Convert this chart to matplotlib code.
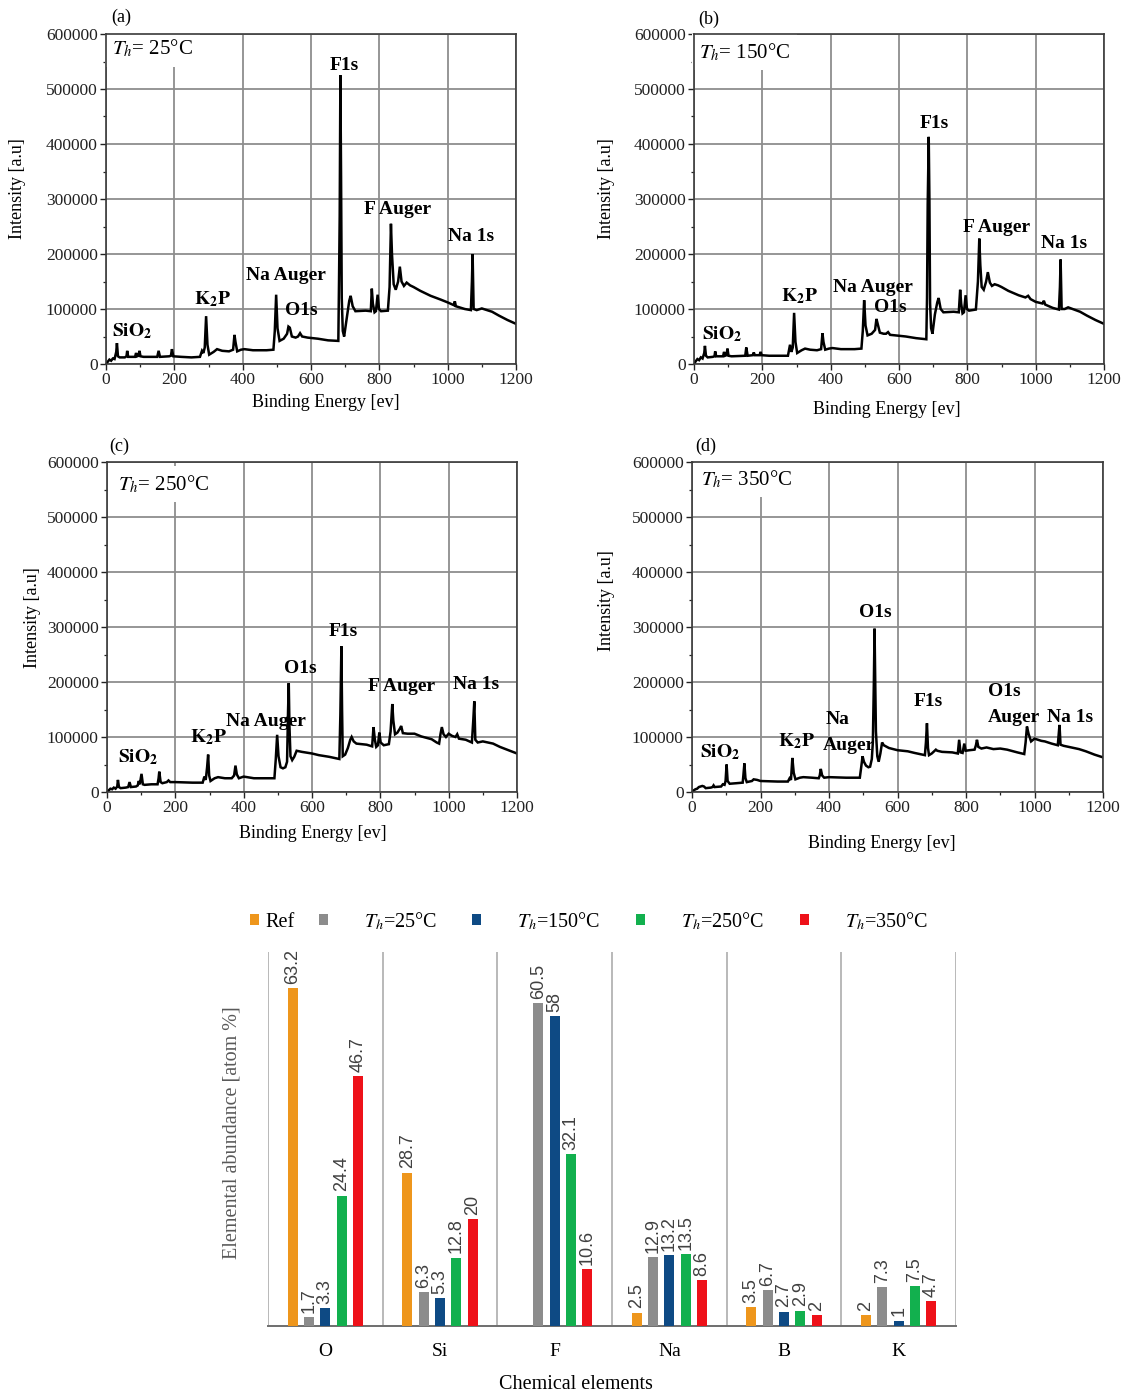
import numpy as np
import matplotlib
matplotlib.use("Agg")
import matplotlib.pyplot as plt
from matplotlib.ticker import MultipleLocator, FuncFormatter

plt.rcParams["font.family"] = ["Liberation Serif", "DejaVu Serif"]
plt.rcParams["mathtext.fontset"] = "stix"

# ---------------- XPS survey spectra ----------------
# binding energy [eV] and intensity [x1000 a.u.]
energy_a = [0, 5, 10, 15, 20, 25, 30, 32, 35, 40, 55, 60, 62, 65, 85, 88, 91, 95, 98, 101, 110,
            150, 154, 158, 185, 190, 193, 197, 220, 250, 275, 281, 285, 289, 293, 297, 302, 315,
            325, 340, 360, 372, 376, 379, 384, 395, 405, 430, 470, 490, 494, 498, 502, 508, 520,
            530, 534, 538, 544, 555, 562, 568, 574, 590, 620, 650, 680, 682, 684, 686, 688, 690,
            693, 697, 705, 712, 716, 722, 730, 760, 775, 778, 781, 786, 790, 795, 799, 805, 825,
            830, 834, 837, 842, 848, 855, 860, 865, 872, 880, 890, 900, 920, 950, 980, 1000, 1018,
            1021, 1024, 1050, 1068, 1071, 1073, 1076, 1085, 1100, 1130, 1150, 1175, 1200]
counts_a = [0, 4, 8, 6, 10, 9, 22, 38, 14, 12, 12, 14, 24, 13, 13, 20, 14, 15, 24, 14, 13,
            13, 24, 13, 14, 15, 27, 14, 13, 12, 13, 24, 20, 30, 87, 35, 17, 22,
            27, 24, 23, 26, 53, 40, 23, 26, 27, 25, 25, 26, 60, 126, 65, 42, 46,
            55, 68, 66, 50, 48, 50, 56, 50, 48, 46, 43, 42, 150, 270, 525, 340, 120,
            60, 50, 85, 115, 124, 105, 96, 97, 96, 137, 110, 94, 96, 126, 100, 96, 97,
            140, 255, 200, 145, 135, 150, 177, 150, 142, 148, 143, 140, 133, 124, 117, 112, 107,
            114, 105, 100, 98, 150, 200, 100, 98, 101, 95, 88, 80, 73]

energy_b = [0, 5, 10, 15, 20, 25, 30, 32, 35, 40, 55, 60, 62, 65, 85, 88, 91, 95, 98, 101, 110,
            150, 153, 157, 172, 175, 178, 192, 195, 198, 220, 250, 275, 281, 285, 289, 293, 297,
            302, 315, 325, 340, 360, 372, 376, 379, 384, 395, 405, 430, 470, 490, 494, 498, 502,
            508, 520, 530, 534, 538, 544, 555, 562, 568, 574, 590, 620, 650, 680, 682, 684, 687,
            689, 691, 694, 698, 705, 712, 716, 722, 730, 760, 775, 779, 782, 786, 790, 795, 799,
            805, 825, 831, 835, 838, 842, 848, 855, 860, 866, 872, 880, 890, 900, 920, 950, 970,
            978, 985, 1000, 1020, 1024, 1028, 1050, 1068, 1071, 1073, 1076, 1085, 1095, 1130,
            1150, 1175, 1200]
counts_b = [0, 5, 9, 7, 12, 10, 20, 33, 15, 12, 13, 14, 23, 14, 14, 22, 15, 16, 28, 15, 14,
            15, 30, 15, 16, 21, 16, 16, 22, 16, 15, 15, 15, 35, 22, 30, 93, 40,
            20, 25, 28, 26, 25, 27, 56, 40, 26, 28, 29, 27, 27, 28, 60, 116, 70,
            52, 55, 62, 82, 72, 57, 55, 55, 58, 53, 52, 50, 47, 45, 120, 290, 413,
            300, 110, 65, 55, 90, 112, 120, 100, 94, 95, 94, 135, 110, 92, 94, 125, 100,
            97, 99, 150, 228, 180, 140, 135, 150, 167, 148, 142, 145, 143, 140, 133, 125, 121,
            124, 118, 113, 110, 115, 108, 102, 99, 140, 190, 100, 100, 103, 95,
            88, 80, 73]

energy_c = [0, 5, 10, 15, 20, 25, 30, 32, 35, 40, 55, 62, 66, 70, 85, 90, 93, 96, 101, 105, 110,
            130, 148, 151, 153, 157, 162, 175, 180, 185, 200, 250, 280, 285, 289, 293, 296, 299,
            303, 315, 325, 345, 365, 372, 376, 380, 386, 400, 430, 470, 490, 494, 498, 502, 508,
            515, 522, 527, 530, 532, 534, 537, 542, 548, 555, 570, 600, 620, 650, 680, 683, 686,
            688, 690, 697, 705, 712, 716, 722, 730, 760, 776, 780, 784, 788, 793, 797, 801, 810,
            825, 830, 835, 838, 843, 850, 857, 861, 866, 880, 900, 920, 950, 965, 972, 976, 980,
            985, 992, 1000, 1010, 1020, 1025, 1030, 1050, 1068, 1072, 1075, 1078, 1085, 1100,
            1130, 1150, 1175, 1200]
counts_c = [0, 3, 6, 5, 8, 6, 10, 22, 9, 7, 8, 9, 18, 9, 10, 12, 20, 14, 33, 14, 13,
            14, 14, 25, 37, 18, 16, 18, 21, 18, 18, 17, 17, 28, 22, 45, 68, 30,
            20, 25, 27, 25, 25, 30, 48, 32, 25, 28, 25, 25, 25, 60, 104, 65, 45,
            43, 45, 55, 150, 198, 120, 65, 58, 64, 75, 73, 70, 67, 64, 60, 140, 265,
            150, 65, 68, 80, 95, 100, 92, 88, 86, 83, 118, 95, 82, 85, 108, 90, 85,
            87, 110, 160, 130, 105, 108, 115, 120, 107, 106, 106, 101, 96, 90, 88, 105, 118,
            105, 100, 106, 102, 100, 105, 97, 95, 90, 130, 165, 95, 90, 92,
            88, 82, 76, 70]

energy_d = [0, 5, 10, 15, 20, 25, 30, 35, 40, 55, 60, 63, 66, 85, 90, 95, 98, 101, 104, 110, 130,
            148, 150, 153, 156, 160, 175, 180, 190, 200, 250, 280, 285, 289, 293, 297, 302, 315,
            325, 350, 370, 373, 376, 380, 386, 400, 450, 490, 494, 498, 502, 508, 515, 520, 525,
            528, 531, 533, 535, 537, 541, 545, 550, 555, 560, 575, 600, 630, 650, 680, 683, 686,
            689, 692, 700, 712, 716, 730, 760, 776, 780, 784, 790, 795, 799, 810, 825, 829, 832,
            836, 845, 860, 880, 900, 920, 950, 970, 974, 978, 983, 990, 1000, 1010, 1020, 1030,
            1050, 1068, 1070, 1073, 1076, 1085, 1100, 1130, 1150, 1175, 1200]
counts_d = [0, 3, 5, 6, 9, 10, 11, 10, 7, 8, 9, 12, 9, 10, 14, 13, 20, 50, 20, 15, 16,
            17, 30, 52, 25, 18, 20, 23, 22, 20, 19, 19, 25, 22, 62, 35, 23, 26,
            27, 26, 25, 30, 42, 30, 26, 27, 26, 26, 45, 65, 55, 48, 45, 46, 60,
            90, 200, 297, 200, 110, 65, 55, 70, 90, 85, 80, 76, 74, 71, 67, 90, 125,
            80, 67, 70, 77, 75, 73, 72, 70, 95, 72, 71, 88, 75, 76, 77, 85, 95,
            82, 79, 81, 78, 79, 77, 72, 69, 90, 119, 105, 92, 97, 95, 93, 92,
            88, 85, 100, 122, 86, 84, 82, 78, 74, 68, 63]

spectra = [(energy_a, counts_a), (energy_b, counts_b), (energy_c, counts_c), (energy_d, counts_d)]
panel_tags = ["(a)", "(b)", "(c)", "(d)"]
heat_temps = ["25", "150", "250", "350"]

K2P = r"$\mathbf{K_2P}$"
SIO2 = r"$\mathbf{SiO_2}$"
# peak labels: text, energy [eV], intensity [x1000]
peak_notes = [
    [("F1s", 697, 543), ("F Auger", 852, 280), ("Na 1s", 1068, 231), ("Na Auger", 527, 160),
     (K2P, 313, 118), ("O1s", 571, 98), (SIO2, 76, 60)],
    [("F1s", 702, 438), ("F Auger", 887, 249), ("Na 1s", 1083, 220), ("Na Auger", 524, 140),
     (K2P, 310, 124), ("O1s", 574, 102), (SIO2, 82, 55)],
    [("F1s", 691, 291), ("O1s", 565, 224), ("F Auger", 863, 191), ("Na 1s", 1080, 195),
     ("Na Auger", 465, 129), (K2P, 296, 100), (SIO2, 91, 64)],
    [("O1s", 536, 327), ("F1s", 691, 164), ("O1s", 913, 182), ("Auger", 940, 136),
     ("Na 1s", 1103, 136), ("Na", 424, 131), ("Auger", 457, 84), (K2P, 304, 93), (SIO2, 82, 73)],
]

# ---------------- Elemental composition ----------------
elements = ["O", "Si", "F", "Na", "B", "K"]
series_names = ["Ref", r"$T_h$=25°C", r"$T_h$=150°C", r"$T_h$=250°C", r"$T_h$=350°C"]
ref_pct = [63.2, 28.7, np.nan, 2.5, 3.5, 2]
th25_pct = [1.7, 6.3, 60.5, 12.9, 6.7, 7.3]
th150_pct = [3.3, 5.3, 58, 13.2, 2.7, 1]
th250_pct = [24.4, 12.8, 32.1, 13.5, 2.9, 7.5]
th350_pct = [46.7, 20, 10.6, 8.6, 2, 4.7]
series_values = [ref_pct, th25_pct, th150_pct, th250_pct, th350_pct]
series_colors = ["#EE961C", "#8C8C8C", "#0E4A84", "#12B04E", "#EE1119"]

# ---------------- Figure ----------------
W, H = 1126, 1396
fig = plt.figure(figsize=(W / 100, H / 100), dpi=100)


def px_axes(x0, y0, x1, y1):
    return fig.add_axes([x0 / W, 1 - y1 / H, (x1 - x0) / W, (y1 - y0) / H])


panel_layout = [
    dict(box=(106, 34, 516, 364), tag=(121, 17), temp=(0.015, 0.955), ylab=(-0.195, 0.533), xlab=(0.537, -0.091)),
    dict(box=(694, 34, 1104, 364), tag=(709, 19), temp=(0.012, 0.945), ylab=(-0.193, 0.533), xlab=(0.470, -0.112)),
    dict(box=(107, 462, 517, 792), tag=(119, 446), temp=(0.027, 0.933), ylab=(-0.161, 0.530), xlab=(0.502, -0.100)),
    dict(box=(692, 462, 1103, 792), tag=(706, 446), temp=(0.022, 0.948), ylab=(-0.188, 0.580), xlab=(0.463, -0.130)),
]

grid_col = "#8E8E8E"
for (en, ct), lay, tag, temp, notes in zip(spectra, panel_layout, panel_tags, heat_temps, peak_notes):
    ax = px_axes(*lay["box"])
    ax.plot(en, np.asarray(ct) * 1000, color="black", lw=1.8, zorder=3, solid_joinstyle="miter")
    ax.set_xlim(0, 1200)
    ax.set_ylim(0, 600000)
    ax.xaxis.set_major_locator(MultipleLocator(200))
    ax.xaxis.set_minor_locator(MultipleLocator(100))
    ax.yaxis.set_major_locator(MultipleLocator(100000))
    ax.yaxis.set_minor_locator(MultipleLocator(50000))
    ax.yaxis.set_major_formatter(FuncFormatter(lambda v, p: f"{int(v)}"))
    ax.grid(True, which="major", color=grid_col, lw=1.3)
    ax.set_axisbelow(True)
    ax.tick_params(which="major", direction="out", length=4, width=1, labelsize=12.5, pad=2, colors="#222222")
    ax.tick_params(which="minor", direction="out", length=2.5, width=0.9, colors="#222222")
    for s in ax.spines.values():
        s.set_color("#3A3A3A")
        s.set_linewidth(1.2)
        s.set_zorder(6)
    ax.set_xlabel("Binding Energy [ev]", fontsize=13)
    ax.set_ylabel("Intensity [a.u]", fontsize=13)
    ax.xaxis.set_label_coords(*lay["xlab"])
    ax.yaxis.set_label_coords(*lay["ylab"])
    ax.text(*lay["temp"], rf"$T_h$= {temp}°C", transform=ax.transAxes, fontsize=15, ha="left", va="center",
            zorder=2.2, bbox=dict(boxstyle="square,pad=0.35", facecolor="white", edgecolor="none"))
    for s, xe, yk in notes:
        ax.text(xe, yk * 1000, s, fontsize=14, fontweight="bold", ha="center", va="center", zorder=5)
    fig.text(lay["tag"][0] / W, 1 - lay["tag"][1] / H, tag, fontsize=13, ha="center", va="center")

# ---------------- Bar chart ----------------
axb = px_axes(268, 952, 956, 1326)
n_series = len(series_values)
step, width = 0.143, 0.087
xpos = np.arange(len(elements))
handles = []
for i, (vals, col, name) in enumerate(zip(series_values, series_colors, series_names)):
    off = (i - (n_series - 1) / 2) * step
    bars = axb.bar(xpos + off, vals, width=width, color=col, label=name, zorder=3)
    handles.append(bars)
    labels = ["" if np.isnan(v) else f"{v:g}" for v in np.asarray(vals, dtype=float)]
    axb.bar_label(bars, labels=labels, rotation=90, padding=3, fontsize=13, color="#404040",
                  family=["Liberation Sans", "DejaVu Sans"])

axb.set_xlim(-0.5, len(elements) - 0.5)
axb.set_ylim(0, 70)
axb.set_xticks(xpos)
axb.set_xticklabels(elements, fontsize=14)
axb.set_xticks(np.arange(-0.5, len(elements)), minor=True)
axb.grid(True, which="minor", axis="x", color="#A6A6A6", lw=1.1, zorder=1)
axb.tick_params(axis="x", which="both", length=0, pad=12)
axb.set_yticks([])
for side in ["left", "top", "right"]:
    axb.spines[side].set_visible(False)
axb.spines["bottom"].set_color("#6E6E6E")
axb.spines["bottom"].set_linewidth(1.4)
axb.set_ylabel("Elemental abundance [atom %]", fontsize=14.5, color="#595959")
axb.yaxis.set_label_coords(-0.039, 0.516)
axb.set_xlabel("Chemical elements", fontsize=14.5)
axb.xaxis.set_label_coords(0.448, -0.132)

legend_labels = [series_names[0]] + ["      " + s + "   " for s in series_names[1:]]
fig.legend(handles, legend_labels, loc="center", bbox_to_anchor=(0.528, 1 - 921 / H), ncol=5,
           frameon=False, fontsize=14.5, handlelength=0.45, handleheight=0.45, handletextpad=0.3,
           columnspacing=1.2, borderaxespad=0)

fig.savefig("out.png", dpi=100, facecolor="white")
